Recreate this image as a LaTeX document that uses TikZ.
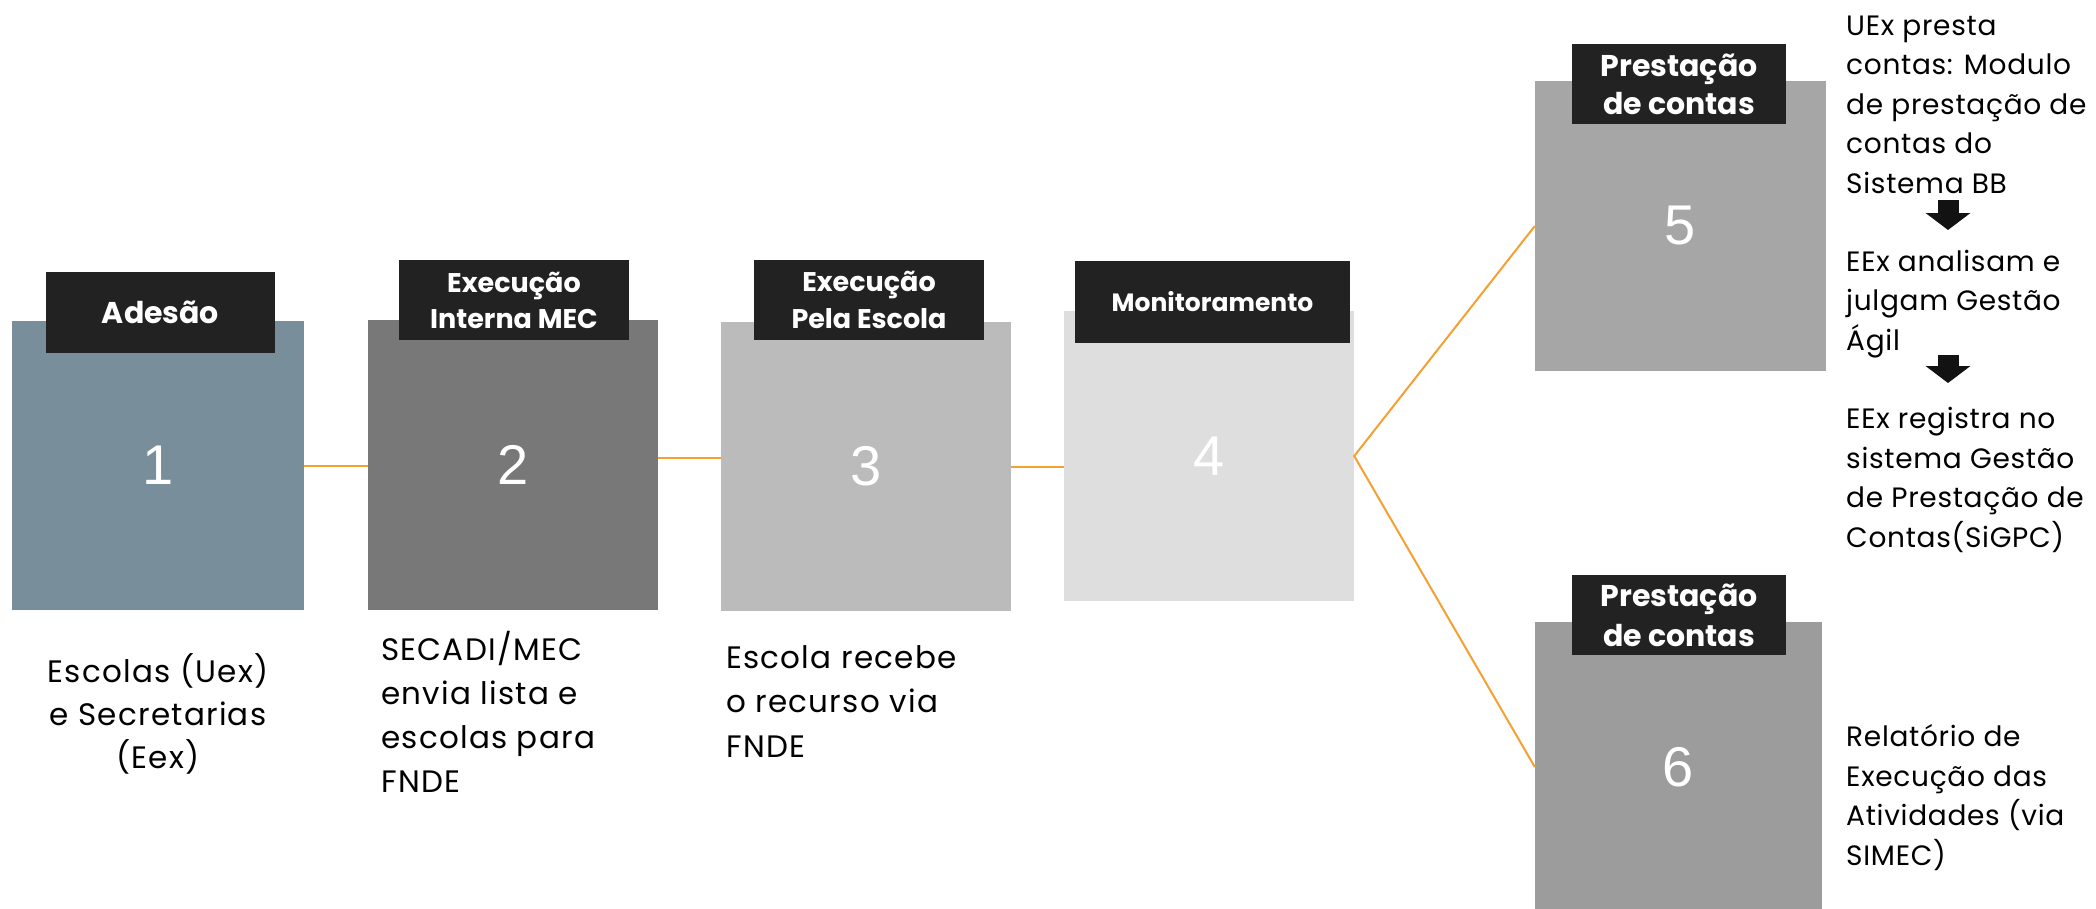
\documentclass[tikz,border=0pt]{standalone}
\usepackage{fontspec}
\setmainfont{Poppins}
\newfontfamily\numfont{Liberation Sans}
\newfontfamily\rtfont{Poppins}[LetterSpace=2.5]
\newfontfamily\btfont{Poppins}[LetterSpace=4]
\usetikzlibrary{arrows.meta}
\definecolor{cA}{HTML}{788F9B}
\definecolor{cB}{HTML}{787878}
\definecolor{cC}{HTML}{BBBBBB}
\definecolor{cD}{HTML}{DEDEDE}
\definecolor{cE}{HTML}{A6A6A6}
\definecolor{cF}{HTML}{9C9C9C}
\definecolor{hdrcol}{HTML}{222222}
\definecolor{orangec}{HTML}{F5A033}
\tikzset{
  stagebox/.style={rectangle, inner sep=0pt, text=white, font=\numfont\fontsize{56}{60}\selectfont},
  hdr/.style={rectangle, fill=hdrcol, text=white, inner sep=0pt, align=center},
  link/.style={draw=orangec, line width=2pt},
  desc/.style={inner sep=0pt, align=left, anchor=base west, font=\rtfont\fontsize{28}{39.5}\selectfont},
  bdesc/.style={inner sep=0pt, anchor=base west, font=\btfont\fontsize{31}{44}\selectfont},
  blockarrow/.style={draw=black!93, line width=21pt, -{Triangle[length=17pt,width=44pt]}}
}
\begin{document}
\begin{tikzpicture}[x=1pt,y=-1pt]
\useasboundingbox (0,0) rectangle (2096,908);
\fill[white] (0,0) rectangle (2096,908);
\clip (0,0) rectangle (2096,908);
% stage boxes
\node[stagebox, fill=cA, minimum width=292pt, minimum height=289pt] (b1) at (158,465.5) {1};
\node[stagebox, fill=cB, minimum width=290pt, minimum height=290pt] (b2) at (513,465) {2};
\node[stagebox, fill=cC, minimum width=290pt, minimum height=289pt] (b3) at (866,466.5) {3};
\node[stagebox, fill=cD, minimum width=290pt, minimum height=290pt] (b4) at (1209,456) {4};
\node[stagebox, fill=cE, minimum width=291pt, minimum height=290pt] (b5) at (1680.5,226) {5};
\node[stagebox, fill=cF, minimum width=287pt, minimum height=290pt] (b6) at (1678.5,767) {6};
% headers
\node[hdr, minimum width=229pt, minimum height=81pt, font=\bfseries\fontsize{30}{36}\selectfont] (h1) at (160.5,312.5) {Adesão};
\node[hdr, minimum width=230pt, minimum height=80pt, font=\bfseries\fontsize{27}{36}\selectfont] (h2) at (514,300) {Execução\\Interna MEC};
\node[hdr, minimum width=230pt, minimum height=80pt, font=\bfseries\fontsize{27}{37}\selectfont] (h3) at (869,300) {Execução\\Pela Escola};
\node[hdr, minimum width=275pt, minimum height=82pt, font=\bfseries\fontsize{25}{30}\selectfont] (h4) at (1212.5,302) {Monitoramento};
\node[hdr, minimum width=214pt, minimum height=80pt, font=\bfseries\fontsize{30}{38}\selectfont] (h5) at (1679,84) {Prestação\\de contas};
\node[hdr, minimum width=214pt, minimum height=80pt, font=\bfseries\fontsize{30}{40}\selectfont] (h6) at (1679,615) {Prestação\\de contas};
% connectors
\draw[link] (b1.east) -- (b1.east -| b2.west);
\draw[link] ([yshift=7pt]b2.east) -- ([yshift=7pt]b2.east -| b3.west);
\draw[link] (b3.east) -- (b3.east -| b4.west);
\draw[link] (b5.west) -- (b4.east) -- (b6.west);
% right texts (anchored at the baseline of their last line)
\node[desc] (t1) at (1846,193) {UEx presta\\contas: Modulo\\de prestação de\\contas do\\Sistema BB};
\node[desc] (t2) at (1846,350) {EEx analisam e\\julgam Gestão\\Ágil};
\node[desc] (t3) at (1846,547) {EEx registra no\\sistema Gestão\\de Prestação de\\Contas(SiGPC)};
\node[desc] (t4) at (1846,865) {Relatório de\\Execução das\\Atividades (via\\SIMEC)};
\coordinate (a1s) at (1948,200);
\coordinate (a1e) at (1948,230);
\coordinate (a2s) at (1948,355);
\coordinate (a2e) at (1948,383);
\draw[blockarrow] (a1s) -- (a1e);
\draw[blockarrow] (a2s) -- (a2e);
% bottom texts
\node[bdesc, anchor=base, align=center, font=\btfont\fontsize{31}{43}\selectfont] (d1) at (158,768) {Escolas (Uex)\\e Secretarias\\(Eex)};
\node[bdesc, align=left] (d2) at (381,792) {SECADI/MEC\\envia lista e\\escolas para\\FNDE};
\node[bdesc, align=left, font=\btfont\fontsize{31}{44.5}\selectfont] (d3) at (726,757) {Escola recebe\\o recurso via\\FNDE};
\end{tikzpicture}
\end{document}
